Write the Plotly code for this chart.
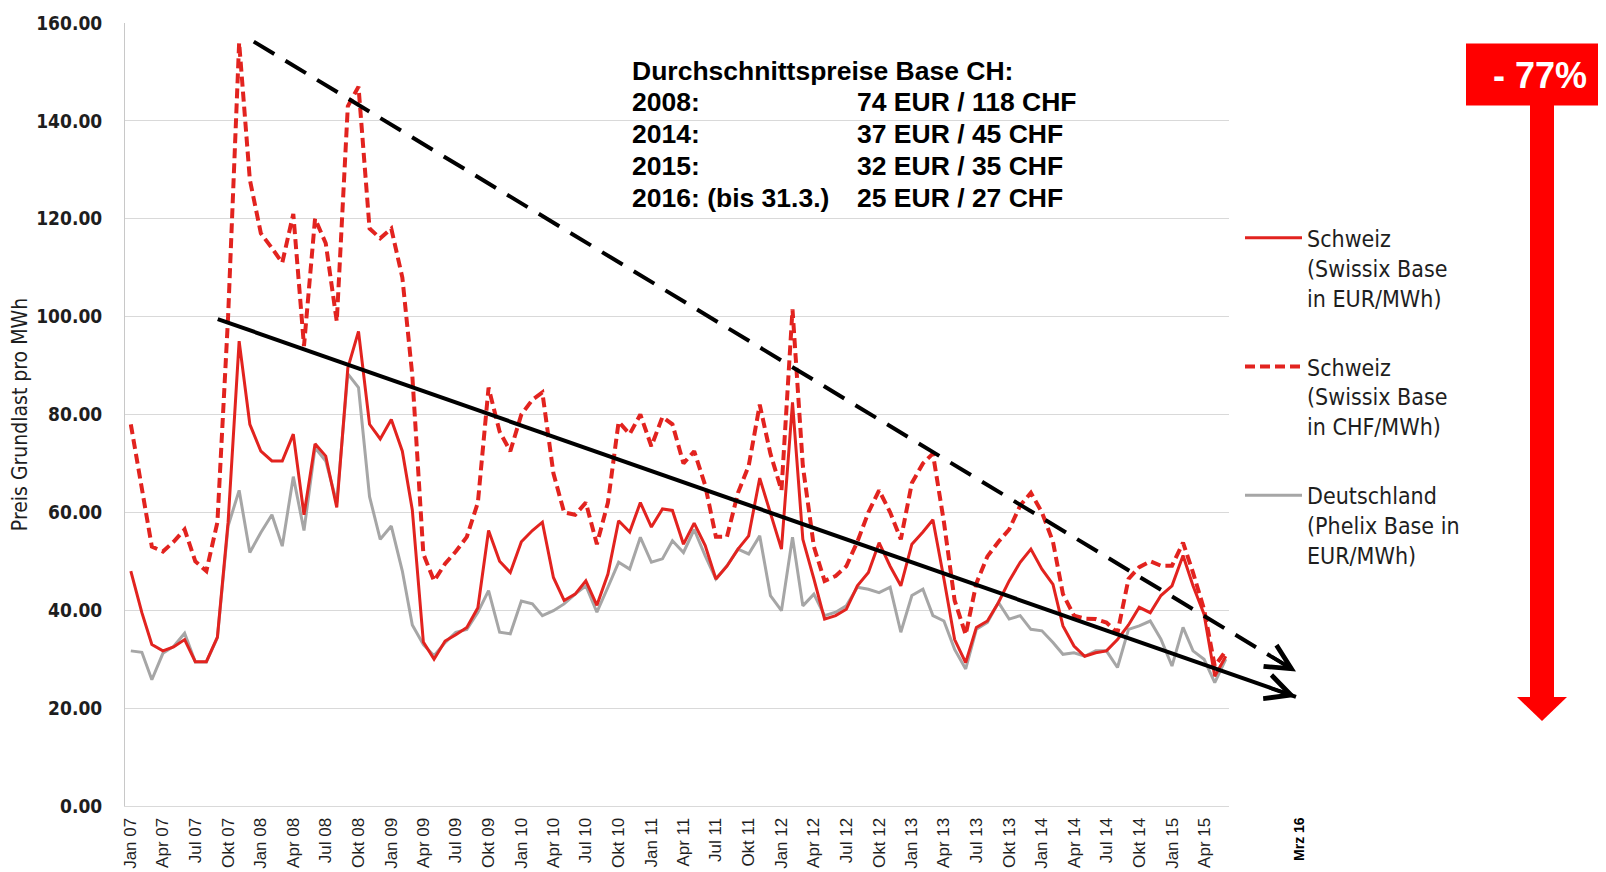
import plotly.graph_objects as go
import pandas as pd

# ---------------- data ----------------
months = pd.date_range("2007-01-01", periods=102, freq="MS")

swissix_eur = [
    48, 39.5, 33, 31.7, 32.5, 34, 29.5, 29.5, 34.5, 58, 95, 78,
    72.5, 70.5, 70.5, 76, 59.5, 74, 71.5, 61, 89.5, 97, 78, 75,
    79, 72.5, 60.5, 33.5, 30, 33.7, 35, 36.5, 40.5, 56.3, 50, 47.7,
    54, 56.3, 58, 46.7, 42, 43.3, 46, 41, 47.4, 58.3, 56, 62,
    57, 60.7, 60.4, 53.5, 57.8, 53.2, 46.4, 49, 52.5, 55.2, 67, 60,
    52.5, 82.5, 54.5, 46.4, 38.2, 38.9, 40.2, 45, 47.7, 53.8, 49, 45,
    53.5, 56, 58.5, 46.4, 34, 29.3, 36.5, 37.8, 41.6, 46, 49.8, 52.5,
    48.4, 45.3, 36.8, 32.7, 30.6, 31.3, 31.7, 34, 37, 40.6, 39.5, 43,
    45, 51.2, 45, 39.2, 26.5, 30.6,
]

swissix_chf = [
    78, 65, 53, 52, 54, 56.5, 50, 48, 58, 100, 156, 128,
    117, 114, 111, 121, 94, 120, 115, 99, 143, 147, 118, 116,
    118, 108, 88, 51.5, 46, 49.5, 52, 55, 62, 85.5, 76.5, 72.5,
    80, 83, 84.5, 68, 60, 59.5, 62, 53.5, 62, 78.5, 76, 80,
    73.5, 79.5, 78, 70, 72.5, 65.5, 55, 55, 64, 69.5, 82, 72,
    64.5, 101.5, 69.5, 53, 46, 47, 49, 54, 60, 64.5, 60, 54.5,
    66, 70, 72, 58, 42, 35, 45.5, 51, 54, 56.5, 61.4, 64,
    60, 54, 43.3, 38.9, 38.3, 38.2, 37.5, 35.4, 46.4, 48.8, 50, 49.1,
    49.1, 53.8, 47.7, 40.2, 28.6, 31.7,
]

phelix_de = [
    31.7, 31.4, 25.8, 31.2, 32.6, 35.3, 29.4, 29.4, 34.4, 57.2, 64.5, 51.8,
    55.9, 59.5, 53.1, 67.3, 56.3, 73.2, 70.5, 62, 88.3, 85.5, 63.2, 54.5,
    57.2, 48, 37, 33, 30.7, 33.4, 35.5, 36.1, 39.6, 44, 35.5, 35.2,
    41.9, 41.3, 38.9, 39.9, 41.3, 43.3, 45, 39.6, 44.7, 49.8, 48.4, 54.9,
    49.8, 50.5, 54.2, 51.8, 56.5, 51.1, 46.4, 49.1, 52.5, 51.5, 55.2, 43,
    39.9, 54.9, 40.9, 43.3, 38.9, 39.6, 40.9, 44.7, 44.3, 43.6, 44.7, 35.5,
    43, 44.3, 38.9, 37.8, 32, 28, 36.1, 37.5, 41.6, 38.2, 38.9, 36.1,
    35.8, 33.4, 31, 31.3, 30.6, 31.7, 31.7, 28.3, 36.1, 36.8, 37.8, 34.1,
    28.6, 36.5, 31.7, 30, 25.2, 30,
]

series_names = [
    "Schweiz<br>(Swissix Base<br>in EUR/MWh)",
    "Schweiz<br>(Swissix Base<br>in CHF/MWh)",
    "Deutschland<br>(Phelix Base in<br>EUR/MWh)",
]

MONTH_DE = {1: "Jan", 4: "Apr", 7: "Jul", 10: "Okt"}
tick_dates = pd.date_range("2007-01-01", "2015-04-01", freq="3MS")
tick_text = [f"{MONTH_DE[d.month]} {d:%y}" for d in tick_dates]
y_ticks = [0, 20, 40, 60, 80, 100, 120, 140, 160]

avg_title = "Durchschnittspreise Base CH:"
avg_years = ["2008:", "2014:", "2015:", "2016: (bis 31.3.)"]
avg_values = ["74 EUR / 118 CHF", "37 EUR / 45 CHF", "32 EUR / 35 CHF", "25 EUR / 27 CHF"]

trend_solid_x = ["2007-09-02", "2015-12-15"]
trend_solid_y = [99.5, 22.3]
trend_dash_x = ["2007-12-12", "2015-12-15"]
trend_dash_y = [156.2, 27.5]

decline_label = "- 77%"
end_label = "Mrz 16"

# ---------------- geometry helpers ----------------
# page body has an 8px margin: figure is drawn 8px in from the window's top-left
OFF = 8
W, H = 1606 - OFF, 872 - OFF
L, R, T, B = 125, 1229, 22.5, 806          # plot area in window pixels
PW, PH = R - L, B - T
x_range = [pd.Timestamp("2006-12-15 16:00"), pd.Timestamp("2015-06-10")]
y_range = [0, 160]


def px_x(px):
    return (px - L) / PW


def px_y(py):
    return (B - py) / PH


def date_frac(d):
    t = pd.Timestamp(d)
    return (t - x_range[0]) / (x_range[1] - x_range[0])


def val_frac(v):
    return (v - y_range[0]) / (y_range[1] - y_range[0])


RED = "#e2231f"
GREY = "#a6a6a6"
TXT = "#1e1e1e"

fig = go.Figure()
fig.add_trace(go.Scatter(x=months, y=phelix_de, mode="lines", name=series_names[2],
                         line=dict(color=GREY, width=3), legendgroup="de", legendrank=3))
fig.add_trace(go.Scatter(x=months, y=swissix_eur, mode="lines", name=series_names[0],
                         line=dict(color=RED, width=3), legendgroup="eur", legendrank=1))
fig.add_trace(go.Scatter(x=months, y=swissix_chf, mode="lines", name=series_names[1],
                         line=dict(color=RED, width=4, dash="10px,5px"), legendgroup="chf", legendrank=2))

shapes = []
annotations = []

# white box behind the averages text
shapes.append(dict(type="rect", xref="paper", yref="paper", layer="between",
                   x0=px_x(610), x1=px_x(1116), y0=px_y(230), y1=px_y(40),
                   fillcolor="white", line=dict(width=0)))

box_font = dict(family="Liberation Sans, Arial, sans-serif", size=26.5, color="black")
row_y = [71, 102, 134, 166, 198]
annotations.append(dict(text=f"<b>{avg_title}</b>", xref="paper", yref="paper",
                        x=px_x(630), y=px_y(row_y[0]), xanchor="left", yanchor="middle",
                        showarrow=False, font=box_font))
for k in range(4):
    annotations.append(dict(text=f"<b>{avg_years[k]}</b>", xref="paper", yref="paper",
                            x=px_x(630), y=px_y(row_y[k + 1]), xanchor="left", yanchor="middle",
                            showarrow=False, font=box_font))
    annotations.append(dict(text=f"<b>{avg_values[k]}</b>", xref="paper", yref="paper",
                            x=px_x(855), y=px_y(row_y[k + 1]), xanchor="left", yanchor="middle",
                            showarrow=False, font=box_font))


# trend lines with arrow heads
def trend(xs, ys, dash):
    fx = [date_frac(v) for v in xs]
    fy = [val_frac(v) for v in ys]
    shapes.append(dict(type="line", xref="paper", yref="paper", layer="above",
                       x0=fx[0], y0=fy[0], x1=fx[1], y1=fy[1],
                       line=dict(color="black", width=4, dash=dash)))
    dxp = (fx[1] - fx[0]) * PW
    dyp = -(fy[1] - fy[0]) * PH  # screen down positive
    n = (dxp ** 2 + dyp ** 2) ** 0.5
    ux, uy = dxp / n, dyp / n
    annotations.append(dict(text="", xref="paper", yref="paper", x=fx[1], y=fy[1],
                            showarrow=True, axref="pixel", ayref="pixel",
                            ax=-ux * 30, ay=-uy * 30, arrowhead=5, arrowsize=1.4,
                            arrowwidth=3.5, arrowcolor="black", standoff=0))


trend(trend_solid_x, trend_solid_y, "solid")
trend(trend_dash_x, trend_dash_y, "24px,13px")

# "Mrz 16" label
annotations.append(dict(text=f"<b>{end_label}</b>", xref="paper", yref="paper",
                        x=px_x(1299), y=px_y(839), textangle=-90, showarrow=False,
                        xanchor="center", yanchor="middle",
                        font=dict(family="Liberation Sans, Arial, sans-serif", size=14, color="black")))

# big red arrow with -77%
shapes.append(dict(type="rect", xref="paper", yref="paper", layer="above",
                   x0=px_x(1466), x1=px_x(1610), y0=px_y(105), y1=px_y(43),
                   fillcolor="#ff0000", line=dict(width=0)))
shapes.append(dict(type="rect", xref="paper", yref="paper", layer="above",
                   x0=px_x(1530), x1=px_x(1554), y0=px_y(698), y1=px_y(104),
                   fillcolor="#ff0000", line=dict(width=0)))
head = f"M {px_x(1517)},{px_y(697)} L {px_x(1567)},{px_y(697)} L {px_x(1542)},{px_y(721)} Z"
shapes.append(dict(type="path", xref="paper", yref="paper", layer="above", path=head,
                   fillcolor="#ff0000", line=dict(width=0)))
annotations.append(dict(text=f"<b>{decline_label}</b>", xref="paper", yref="paper",
                        x=px_x(1540), y=px_y(75), showarrow=False,
                        xanchor="center", yanchor="middle",
                        font=dict(family="Liberation Sans, Arial, sans-serif", size=36, color="white")))

fig.update_layout(
    width=W, height=H,
    margin=dict(l=L - OFF, r=W - (R - OFF), t=T - OFF, b=H - (B - OFF), autoexpand=False),
    paper_bgcolor="white", plot_bgcolor="white",
    shapes=shapes, annotations=annotations,
    showlegend=True,
    legend=dict(x=px_x(1240), y=px_y(216), xanchor="left", yanchor="top",
                font=dict(family="DejaVu Sans Condensed, DejaVu Sans", size=23, color=TXT),
                itemwidth=57, valign="top", tracegroupgap=36, traceorder="grouped",
                bgcolor="rgba(0,0,0,0)"),
    xaxis=dict(type="date", range=x_range, tickmode="array", tickvals=tick_dates,
               ticktext=tick_text, tickangle=-90, showgrid=False, zeroline=False,
               showline=True, linecolor="#d9d9d9", linewidth=1, ticks="",
               ticklabelstandoff=4,
               tickfont=dict(family="Liberation Sans, Arial, sans-serif", size=17, color=TXT)),
    yaxis=dict(range=y_range, tickmode="array", tickvals=y_ticks, tickformat=".2f",
               showgrid=True, gridcolor="#d9d9d9", gridwidth=1, zeroline=False,
               showline=True, linecolor="#c8c8c8", linewidth=1, ticks="",
               ticklabelstandoff=18, automargin=False,
               tickfont=dict(family="DejaVu Sans Condensed, DejaVu Sans", size=19, color=TXT,
                             weight="bold"),
               title=dict(text="Preis Grundlast pro MWh", standoff=3,
                          font=dict(family="DejaVu Sans Condensed, DejaVu Sans", size=21, color=TXT))),
)

fig.write_html("out.html")
